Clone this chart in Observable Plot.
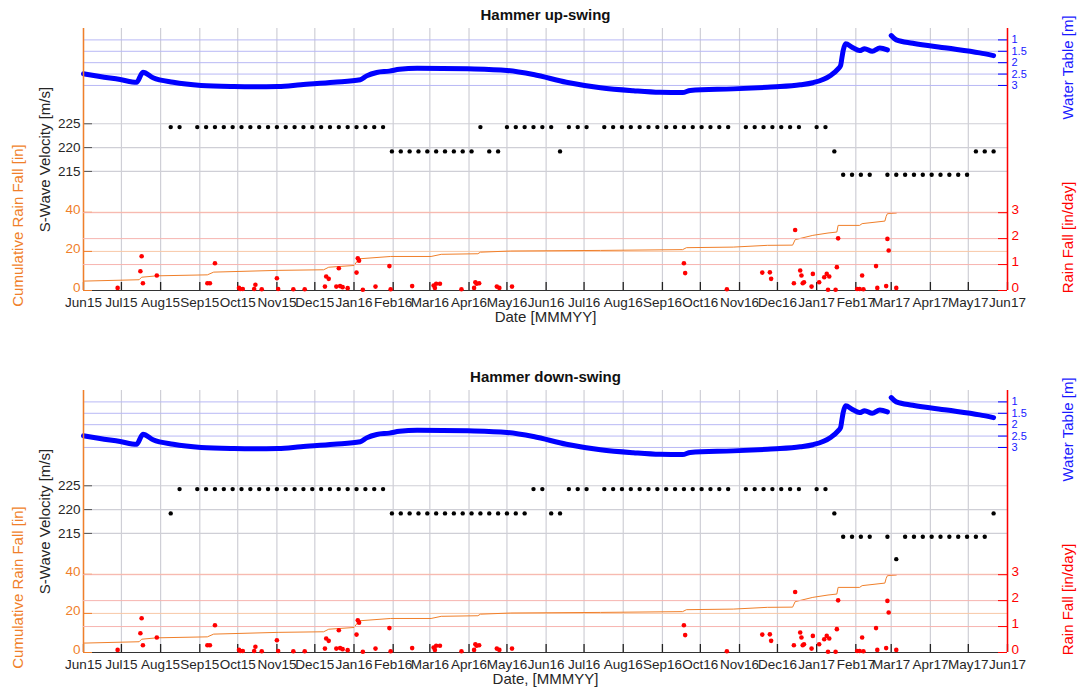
<!DOCTYPE html>
<html>
<head>
<meta charset="utf-8">
<script src="https://cdn.jsdelivr.net/npm/d3@7"></script>
<script src="https://cdn.jsdelivr.net/npm/@observablehq/plot@0.6"></script>
<style>
  body { margin: 0; background: #fff; }
  #chart { position: relative; width: 1081px; height: 689px; overflow: hidden; background: #fff; }
  #chart svg { position: absolute; left: 0; background: transparent; }
</style>
</head>
<body>
<div id="chart"></div>
<script>
// ---------------- DATA ----------------
const monthTicks = ["2015-06-01","2015-07-01","2015-08-01","2015-09-01","2015-10-01","2015-11-01","2015-12-01",
  "2016-01-01","2016-02-01","2016-03-01","2016-04-01","2016-05-01","2016-06-01","2016-07-01","2016-08-01",
  "2016-09-01","2016-10-01","2016-11-01","2016-12-01","2017-01-01","2017-02-01","2017-03-01","2017-04-01",
  "2017-05-01","2017-06-01"];
const monthLabels = ["Jun15","Jul15","Aug15","Sep15","Oct15","Nov15","Dec15","Jan16","Feb16","Mar16","Apr16",
  "May16","Jun16","Jul16","Aug16","Sep16","Oct16","Nov16","Dec16","Jan17","Feb17","Mar17","Apr17","May17","Jun17"];

const velocityTicks = [215, 220, 225];
const waterTicks = [1, 1.5, 2, 2.5, 3];
const waterTickLabels = ["1", "1.5", "2", "2.5", "3"];
const cumTicks = [0, 20, 40];
const rainTicks = [0, 1, 2, 3];

// weekly S-wave survey dates
const surveyDates = [
  "2015-08-09","2015-08-16","2015-08-23","2015-08-30","2015-09-06","2015-09-13","2015-09-20","2015-09-27",
  "2015-10-04","2015-10-11","2015-10-18","2015-10-25","2015-11-01","2015-11-08","2015-11-15","2015-11-22",
  "2015-11-29","2015-12-06","2015-12-13","2015-12-20","2015-12-27","2016-01-03","2016-01-10","2016-01-17",
  "2016-01-24","2016-01-31","2016-02-07","2016-02-14","2016-02-21","2016-02-28","2016-03-06","2016-03-13",
  "2016-03-20","2016-03-27","2016-04-03","2016-04-10","2016-04-17","2016-04-24","2016-05-01","2016-05-08",
  "2016-05-15","2016-05-22","2016-05-29","2016-06-05","2016-06-12","2016-06-19","2016-06-26","2016-07-03",
  "2016-07-10","2016-07-17","2016-07-24","2016-07-31","2016-08-07","2016-08-14","2016-08-21","2016-08-28",
  "2016-09-04","2016-09-11","2016-09-18","2016-09-25","2016-10-02","2016-10-09","2016-10-16","2016-10-23",
  "2016-10-30","2016-11-06","2016-11-13","2016-11-20","2016-11-27","2016-12-04","2016-12-11","2016-12-18",
  "2016-12-25","2017-01-01","2017-01-08","2017-01-15","2017-01-22","2017-01-29","2017-02-05","2017-02-12",
  "2017-02-19","2017-02-26","2017-03-05","2017-03-12","2017-03-19","2017-03-26","2017-04-02","2017-04-09",
  "2017-04-16","2017-04-23","2017-04-30","2017-05-07","2017-05-14","2017-05-21"];

// S-wave velocity, hammer up-swing (null = no reading)
const velocityUp = [
  224.3, 224.3, null,
  224.3, 224.3, 224.3, 224.3, 224.3, 224.3, 224.3, 224.3, 224.3, 224.3, 224.3,
  224.3, 224.3, 224.3, 224.3, 224.3, 224.3, 224.3, 224.3, 224.3, 224.3, 224.3,
  219.2, 219.2, 219.2, 219.2, 219.2, 219.2, 219.2, 219.2, 219.2, 219.2,
  224.3, 219.2, 219.2,
  224.3, 224.3, 224.3, 224.3, 224.3, 224.3,
  219.2, 224.3, 224.3, 224.3, null,
  224.3, 224.3, 224.3, 224.3, 224.3, 224.3, 224.3, 224.3, 224.3, 224.3, 224.3, 224.3, 224.3, 224.3, 224.3,
  null, 224.3, 224.3, 224.3, 224.3, 224.3, 224.3, 224.3, null, 224.3, 224.3,
  219.2, 214.3, 214.3, 214.3, 214.3, null,
  214.3, 214.3, 214.3, 214.3, 214.3, 214.3, 214.3, 214.3, 214.3, 214.3,
  219.2, 219.2, 219.2];

// S-wave velocity, hammer down-swing
const velocityDown = [
  219.2, 224.3, null,
  224.3, 224.3, 224.3, 224.3, 224.3, 224.3, 224.3, 224.3, 224.3, 224.3, 224.3,
  224.3, 224.3, 224.3, 224.3, 224.3, 224.3, 224.3, 224.3, 224.3, 224.3, 224.3,
  219.2, 219.2, 219.2, 219.2, 219.2, 219.2, 219.2, 219.2, 219.2, 219.2,
  219.2, 219.2, 219.2, 219.2, 219.2, 219.2,
  224.3, 224.3, 219.2, 219.2,
  224.3, 224.3, 224.3, null,
  224.3, 224.3, 224.3, 224.3, 224.3, 224.3, 224.3, 224.3, 224.3, 224.3, 224.3, 224.3, 224.3, 224.3, 224.3,
  null, 224.3, 224.3, 224.3, 224.3, 224.3, 224.3, 224.3, null, 224.3, 224.3,
  219.2, 214.3, 214.3, 214.3, 214.3, null,
  214.3, 209.6, 214.3, 214.3, 214.3, 214.3, 214.3, 214.3, 214.3, 214.3, 214.3, 214.3,
  219.2];

// water table depth [m] (null = gap in record)
const waterDates = ["2015-06-01","2015-06-14","2015-06-30","2015-07-13","2015-07-18","2015-07-26","2015-08-11",
  "2015-09-02","2015-09-28","2015-10-14","2015-11-02","2015-11-20","2015-12-16","2016-01-06","2016-01-11",
  "2016-01-19","2016-01-29","2016-02-06","2016-02-20","2016-03-31","2016-05-01","2016-05-22","2016-06-17",
  "2016-07-14","2016-08-09","2016-08-30","2016-09-17","2016-09-23","2016-10-27","2016-11-23","2016-12-03",
  "2016-12-19","2016-12-29","2017-01-12","2017-01-18","2017-01-20","2017-01-21","2017-01-22","2017-01-24",
  "2017-01-29","2017-02-04","2017-02-08","2017-02-14","2017-02-20","2017-02-26","2017-02-28","2017-03-01",
  "2017-03-05","2017-03-18","2017-04-14","2017-05-10","2017-05-21"];
const waterDepth = [2.49, 2.61, 2.74, 2.86, 2.42, 2.66, 2.86,
  3.00, 3.05, 3.06, 3.05, 2.97, 2.86, 2.75, 2.58,
  2.43, 2.37, 2.29, 2.24, 2.27, 2.34, 2.52, 2.86,
  3.10, 3.23, 3.30, 3.31, 3.22, 3.15, 3.08, 3.05,
  2.97, 2.88, 2.56, 2.27, 2.12, 1.79, 1.47, 1.17,
  1.32, 1.47, 1.39, 1.50, 1.36, 1.44, null, 0.81,
  1.00, 1.15, 1.36, 1.57, 1.69];

// cumulative rain fall [in]
const cumDates = ["2015-06-01","2015-07-15","2015-07-17","2015-07-29","2015-09-07","2015-09-12","2015-11-02",
  "2015-12-08","2015-12-12","2016-01-01","2016-01-05","2016-01-30","2016-03-02","2016-03-10","2016-04-08",
  "2016-04-10","2016-05-04","2016-07-14","2016-09-17","2016-09-20","2016-10-27","2016-11-23","2016-12-13",
  "2016-12-15","2016-12-29","2017-01-10","2017-01-17","2017-01-18","2017-02-04","2017-02-06","2017-02-24",
  "2017-02-25","2017-02-26","2017-03-05"];
const cumRain = [4.8, 5.5, 6.8, 7.5, 8.0, 9.4, 10.3,
  10.6, 11.9, 12.8, 16.2, 17.4, 17.4, 18.5, 18.8,
  19.6, 20.2, 20.5, 20.9, 21.9, 22.2, 23.1, 23.2,
  26.0, 28.2, 29.4, 29.9, 33.3, 33.3, 34.2, 35.5,
  37.9, 39.3, 39.6];

// daily rain fall [in/day]
const rainDates = ["2015-06-28","2015-07-16","2015-07-17","2015-07-18","2015-07-29","2015-09-07","2015-09-09",
  "2015-09-13","2015-10-02","2015-10-03","2015-10-05","2015-10-14","2015-10-15","2015-10-20","2015-11-01",
  "2015-11-02","2015-11-14","2015-11-23","2015-12-09","2015-12-10","2015-12-12","2015-12-18","2015-12-20",
  "2015-12-21","2015-12-23","2015-12-27","2016-01-03","2016-01-04","2016-01-05","2016-01-08","2016-01-18",
  "2016-01-29","2016-01-30","2016-02-16","2016-03-04","2016-03-05","2016-03-06","2016-03-09","2016-03-26",
  "2016-04-05","2016-04-06","2016-04-07","2016-04-09","2016-04-23","2016-04-25","2016-05-05","2016-09-18",
  "2016-09-19","2016-10-22","2016-11-19","2016-11-25","2016-11-26","2016-12-14","2016-12-15","2016-12-19",
  "2016-12-20","2016-12-21","2016-12-22","2016-12-28","2016-12-29","2017-01-03","2017-01-07","2017-01-09",
  "2017-01-10","2017-01-11","2017-01-16","2017-01-17","2017-01-18","2017-02-02","2017-02-04","2017-02-06",
  "2017-02-07","2017-02-17","2017-02-18","2017-02-25","2017-02-26","2017-02-27","2017-03-05"];
const rainDaily = [0.10, 0.74, 1.32, 0.28, 0.58, 0.28, 0.28,
  1.05, 0.10, 0.06, 0.06, 0.06, 0.22, 0.05, 0.47,
  0.06, 0.05, 0.05, 0.15, 0.54, 0.45, 0.15, 0.86,
  0.17, 0.13, 0.09, 0.69, 1.24, 1.15, 0.03, 0.15,
  0.94, 0.05, 0.17, 0.19, 0.10, 0.26, 0.26, 0.05,
  0.10, 0.32, 0.26, 0.28, 0.15, 0.10, 0.15, 1.05,
  0.67, 0.05, 0.69, 0.70, 0.45, 0.28, 2.33, 0.77,
  0.58, 0.28, 0.32, 0.15, 0.64, 0.32, 0.51, 0.64,
  0.03, 0.54, 0.03, 0.90, 2.01, 0.06, 0.06, 0.58,
  0.05, 0.94, 0.10, 0.17, 1.99, 1.54, 0.10];

// ---------------- LAYOUT / STYLE ----------------
const W = 1081, ML = 83, MR = 74, MT = 28, FH = 262;
const FW = W - ML - MR;
const FONT = "'Liberation Sans', Arial, Helvetica, sans-serif";
const TXT = "#262626";
const BLUE = "#0000ff", RED = "#ff0000", ORANGE = "#f07f2a";
const parse = s => new Date(s + "T00:00:00Z");
const xDomain = [parse("2015-06-01"), parse("2017-06-01")];
const ticks = monthTicks.map(parse);
const labelByTime = new Map(ticks.map((d, i) => [+d, monthLabels[i]]));
const waterLabel = new Map(waterTicks.map((d, i) => [d, waterTickLabels[i]]));
const container = document.getElementById("chart");

const survey = surveyDates.map(parse);
const water = waterDates.map((d, i) => ({date: parse(d), depth: waterDepth[i] == null ? NaN : waterDepth[i]}));
const cum = cumDates.map((d, i) => ({date: parse(d), value: cumRain[i]}));
const rain = rainDates.map((d, i) => ({date: parse(d), value: rainDaily[i]}));

function layer(top, height, y, marks, xAxisNull = true) {
  const svg = Plot.plot({
    width: W, height,
    marginLeft: ML, marginRight: MR, marginTop: MT, marginBottom: height - MT - FH,
    x: xAxisNull ? {type: "utc", domain: xDomain, axis: null} : {type: "utc", domain: xDomain},
    y,
    style: {fontFamily: FONT, fontSize: "13.5px", background: "transparent", overflow: "visible", color: TXT},
    marks
  });
  svg.style.top = top + "px";
  container.appendChild(svg);
}

function panel(top, height, title, xlabel, velocity) {
  const vel = survey.map((d, i) => ({date: d, v: velocity[i]})).filter(d => d.v != null);
  // S-wave velocity layer (with shared date axis)
  layer(top, height, {domain: [190, 245]}, [
    Plot.ruleX(ticks, {stroke: "#cfcfd6", strokeWidth: 1.2}),
    Plot.ruleY(velocityTicks, {stroke: "#cfcfd6", strokeWidth: 1.2}),
    Plot.tickX(ticks, {stroke: "#222", strokeWidth: 1.3, insetTop: FH - 8}),
    Plot.tickY(velocityTicks, {stroke: "#555", insetRight: FW - 9}),
    Plot.axisX({ticks, tickFormat: d => labelByTime.get(+d), tickSize: 0, tickPadding: 7, label: null, color: TXT}),
    Plot.axisY({anchor: "left", ticks: velocityTicks, tickFormat: d => String(d), tickSize: 0, tickPadding: 3,
      label: null, color: TXT}),
    Plot.dot(vel, {x: "date", y: "v", r: 2.2, fill: "#000", stroke: "none"}),
    Plot.text([title], {text: d => d, frameAnchor: "top", dy: -13, textAnchor: "middle", lineAnchor: "middle",
      fontWeight: "bold", fontSize: 15, fill: "#111"}),
    Plot.text([xlabel], {text: d => d, frameAnchor: "bottom", dy: 27, textAnchor: "middle", lineAnchor: "middle",
      fontSize: 15, fill: TXT}),
    Plot.text(["S-Wave Velocity [m/s]"], {text: d => d, frameAnchor: "left", dx: -38, rotate: -90,
      textAnchor: "middle", lineAnchor: "middle", fontSize: 15, fill: TXT})
  ], false);
  // water table layer
  layer(top, height, {domain: [12, 0.5], axis: null}, [
    Plot.ruleY(waterTicks, {stroke: "#b8b8f5", strokeWidth: 1}),
    Plot.line(water, {x: "date", y: "depth", stroke: BLUE, strokeWidth: 5, curve: "monotone-x"}),
    Plot.tickY(waterTicks, {stroke: BLUE, insetLeft: FW - 9}),
    Plot.axisY({anchor: "right", ticks: waterTicks, tickFormat: d => waterLabel.get(d), tickSize: 0, tickPadding: 4,
      label: null, color: "#2020ff", fontSize: 11}),
    Plot.text(["Water Table [m]"], {text: d => d, frameAnchor: "right", dx: 61, dy: -92, rotate: -90,
      textAnchor: "middle", lineAnchor: "middle", fontSize: 15, fill: "#1a1aff"})
  ]);
  // cumulative rain layer
  layer(top, height, {domain: [0, 134], axis: null}, [
    Plot.ruleY([20, 40], {stroke: "#f8c7a6", strokeWidth: 1}),
    Plot.line(cum, {x: "date", y: "value", stroke: ORANGE, strokeWidth: 1}),
    Plot.ruleY([0], {stroke: "#333", strokeWidth: 1.2}),
    Plot.ruleX([xDomain[0]], {stroke: ORANGE, strokeWidth: 1.5}),
    Plot.tickY(cumTicks, {stroke: ORANGE, insetRight: FW - 9}),
    Plot.axisY({anchor: "left", ticks: cumTicks, tickFormat: d => String(d), tickSize: 0, tickPadding: 3,
      label: null, color: ORANGE, dy: -3}),
    Plot.text(["Cumulative Rain Fall [in]"], {text: d => d, frameAnchor: "left", dx: -65, dy: 66, rotate: -90,
      textAnchor: "middle", lineAnchor: "middle", fontSize: 15, fill: ORANGE})
  ]);
  // daily rain layer
  layer(top, height, {domain: [0, 10.1], axis: null}, [
    Plot.ruleY([1, 2, 3], {stroke: "#f7b4b0", strokeWidth: 1}),
    Plot.dot(rain, {x: "date", y: "value", r: 2.3, fill: RED, stroke: "none"}),
    Plot.ruleX([xDomain[1]], {stroke: RED, strokeWidth: 1.5}),
    Plot.tickY(rainTicks, {stroke: RED, insetLeft: FW - 9}),
    Plot.axisY({anchor: "right", ticks: rainTicks, tickFormat: d => String(d), tickSize: 0, tickPadding: 4,
      label: null, color: RED, dy: -3}),
    Plot.text(["Rain Fall [in/day]"], {text: d => d, frameAnchor: "right", dx: 61, dy: 78, rotate: -90,
      textAnchor: "middle", lineAnchor: "middle", fontSize: 15, fill: RED})
  ]);
}

panel(0, 362, "Hammer up-swing", "Date [MMMYY]", velocityUp);
panel(362, 327, "Hammer down-swing", "Date, [MMMYY]", velocityDown);
</script>
</body>
</html>
